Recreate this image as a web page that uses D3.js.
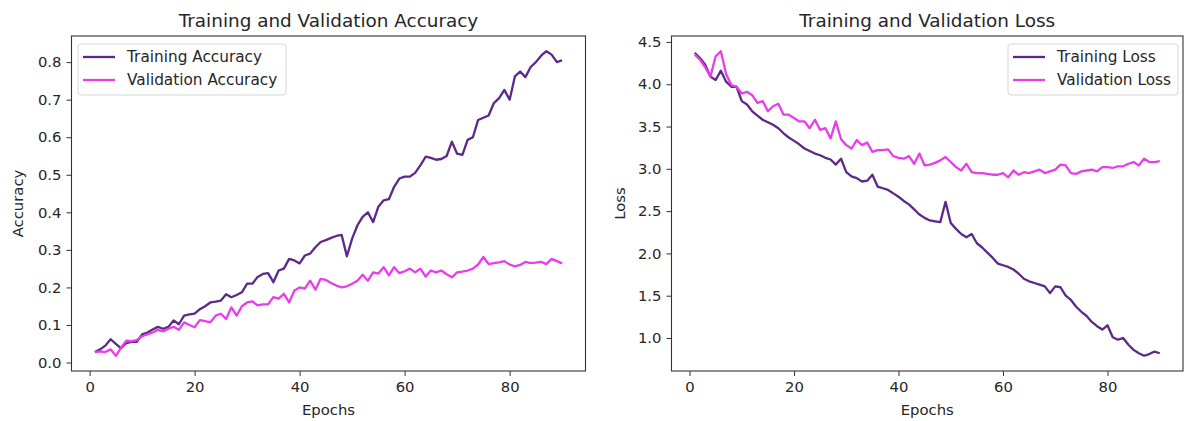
<!DOCTYPE html>
<html>
<head>
<meta charset="utf-8">
<script src="https://cdn.jsdelivr.net/npm/d3@7"></script>
<style>
  body { margin: 0; background: #fff; }
  text { font-family: "DejaVu Sans", sans-serif; fill: #262626; }
</style>
</head>
<body>
<div id="chart"></div>
<script>
// epochs 1..90
var epochs = d3.range(1, 91);

var trainAcc = [0.028,0.035,0.045,0.062,0.05,0.038,0.052,0.055,0.055,0.075,
  0.08,0.088,0.095,0.09,0.095,0.112,0.102,0.125,0.128,0.13,
  0.142,0.15,0.16,0.162,0.165,0.182,0.174,0.18,0.187,0.21,
  0.21,0.228,0.236,0.238,0.214,0.245,0.25,0.276,0.272,0.264,
  0.285,0.29,0.307,0.321,0.326,0.332,0.337,0.34,0.283,0.33,
  0.365,0.388,0.40,0.374,0.415,0.432,0.435,0.468,0.49,0.495,
  0.495,0.505,0.525,0.548,0.545,0.54,0.542,0.55,0.588,0.556,
  0.553,0.593,0.60,0.646,0.652,0.658,0.691,0.704,0.726,0.70,
  0.762,0.775,0.76,0.787,0.80,0.817,0.829,0.82,0.80,0.805];

var valAcc = [0.028,0.03,0.028,0.035,0.018,0.04,0.058,0.057,0.06,0.07,
  0.075,0.08,0.087,0.083,0.09,0.095,0.087,0.107,0.10,0.094,
  0.113,0.11,0.107,0.125,0.13,0.116,0.147,0.125,0.15,0.16,
  0.163,0.152,0.155,0.155,0.174,0.17,0.183,0.16,0.192,0.20,
  0.197,0.218,0.194,0.223,0.22,0.212,0.205,0.20,0.203,0.21,
  0.218,0.234,0.218,0.24,0.237,0.254,0.232,0.254,0.238,0.243,
  0.25,0.24,0.25,0.229,0.245,0.24,0.245,0.235,0.227,0.24,
  0.242,0.245,0.25,0.261,0.281,0.262,0.265,0.267,0.27,0.261,
  0.256,0.26,0.268,0.265,0.266,0.268,0.262,0.276,0.27,0.264];

var trainLoss = [4.37,4.31,4.23,4.09,4.05,4.16,4.03,3.97,3.97,3.80,
  3.76,3.68,3.63,3.58,3.55,3.52,3.48,3.42,3.37,3.33,
  3.29,3.24,3.21,3.18,3.16,3.13,3.11,3.05,3.12,2.96,
  2.91,2.89,2.85,2.86,2.93,2.79,2.77,2.75,2.71,2.67,
  2.62,2.58,2.52,2.46,2.42,2.39,2.38,2.37,2.61,2.36,
  2.29,2.23,2.19,2.23,2.12,2.07,2.01,1.95,1.88,1.86,
  1.84,1.81,1.76,1.70,1.67,1.65,1.63,1.61,1.53,1.61,
  1.60,1.50,1.45,1.37,1.31,1.26,1.19,1.14,1.10,1.15,
  1.01,0.98,1.00,0.92,0.86,0.82,0.79,0.81,0.84,0.82];

var valLoss = [4.35,4.29,4.20,4.09,4.33,4.39,4.12,3.99,3.97,3.89,
  3.91,3.87,3.78,3.80,3.68,3.74,3.77,3.64,3.64,3.60,
  3.56,3.56,3.48,3.58,3.46,3.48,3.36,3.56,3.35,3.28,
  3.24,3.34,3.28,3.31,3.20,3.22,3.22,3.23,3.15,3.13,
  3.12,3.15,3.06,3.18,3.04,3.05,3.07,3.10,3.14,3.08,
  3.02,2.98,3.06,2.96,2.95,2.95,2.94,2.93,2.93,2.95,
  2.90,2.98,2.93,2.96,2.95,2.97,2.99,2.95,2.97,2.99,
  3.05,3.04,2.95,2.94,2.97,2.98,2.99,2.97,3.02,3.02,
  3.01,3.03,3.03,3.06,3.08,3.04,3.12,3.08,3.08,3.09];

var xTicks = [0, 20, 40, 60, 80];
var accTicks = d3.range(0, 0.81, 0.1);
var lossTicks = d3.range(1.0, 4.51, 0.5);

var trainColor = "#5c2a86",
    valColor = "#e93de9";

var svg = d3.select("#chart")
  .append("svg")
  .attr("width", 1184)
  .attr("height", 421);

// matplotlib style 5% margins
function padded(ext) {
  var p = (ext[1] - ext[0]) * 0.05;
  return [ext[0] - p, ext[1] + p];
}

function drawPanel(opt) {
  var g = svg.append("g");

  var x = d3.scaleLinear()
    .domain(padded(d3.extent(epochs)))
    .range([opt.left, opt.right]);

  var y = d3.scaleLinear()
    .domain(padded(d3.extent(opt.train.concat(opt.val))))
    .range([opt.bottom, opt.top]);

  // x axis
  var xAxis = g.append("g")
    .attr("transform", "translate(0," + opt.bottom + ")")
    .call(d3.axisBottom(x).tickValues(xTicks).tickSize(5).tickPadding(5));
  // y axis
  var yAxis = g.append("g")
    .attr("transform", "translate(" + opt.left + ",0)")
    .call(d3.axisLeft(y).tickValues(opt.ticks).tickSize(5).tickPadding(5).tickFormat(d3.format(".1f")));

  [xAxis, yAxis].forEach(function(a) {
    a.select(".domain").remove();
    a.selectAll("line").attr("stroke", "#333");
    a.selectAll("text").style("font-size", "14.8px").style("fill", "#262626");
  });

  // frame
  g.append("rect")
    .attr("x", opt.left)
    .attr("y", opt.top)
    .attr("width", opt.right - opt.left)
    .attr("height", opt.bottom - opt.top)
    .attr("fill", "none")
    .attr("stroke", "#333")
    .attr("stroke-width", 1.1);

  var line = d3.line()
    .x(function(d, i) { return x(epochs[i]); })
    .y(function(d) { return y(d); });

  g.append("path")
    .datum(opt.train)
    .attr("d", line)
    .attr("fill", "none")
    .attr("stroke", trainColor)
    .attr("stroke-width", 2.3)
    .attr("stroke-linejoin", "round");

  g.append("path")
    .datum(opt.val)
    .attr("d", line)
    .attr("fill", "none")
    .attr("stroke", valColor)
    .attr("stroke-width", 2.3)
    .attr("stroke-linejoin", "round");

  var cx = (opt.left + opt.right) / 2;
  g.append("text")
    .attr("x", cx)
    .attr("y", 27)
    .attr("text-anchor", "middle")
    .style("font-size", "18.4px")
    .text(opt.title);

  g.append("text")
    .attr("x", cx)
    .attr("y", 415)
    .attr("text-anchor", "middle")
    .style("font-size", "14.8px")
    .text("Epochs");

  g.append("text")
    .attr("transform", "translate(" + opt.ylabelX + "," + ((opt.top + opt.bottom) / 2) + ") rotate(-90)")
    .attr("text-anchor", "middle")
    .style("font-size", "14.8px")
    .text(opt.ylabel);

  // legend
  var lg = g.append("g").attr("transform", "translate(" + opt.legendX + ",44)");
  lg.append("rect")
    .attr("width", opt.legendW)
    .attr("height", 51)
    .attr("rx", 3)
    .attr("fill", "#fff")
    .attr("fill-opacity", 0.8)
    .attr("stroke", "#d6d6d6");
  var items = [
    { name: opt.names[0], color: trainColor },
    { name: opt.names[1], color: valColor }
  ];
  items.forEach(function(it, i) {
    var yy = 13 + i * 23;
    lg.append("line")
      .attr("x1", 5).attr("x2", 37)
      .attr("y1", yy).attr("y2", yy)
      .attr("stroke", it.color)
      .attr("stroke-width", 2.3);
    lg.append("text")
      .attr("x", 49)
      .attr("y", yy + 5)
      .style("font-size", "15.3px")
      .text(it.name);
  });
}

drawPanel({
  left: 71.5, right: 585.5, top: 36, bottom: 371,
  train: trainAcc, val: valAcc, ticks: accTicks,
  title: "Training and Validation Accuracy",
  ylabel: "Accuracy", ylabelX: 23,
  names: ["Training Accuracy", "Validation Accuracy"],
  legendX: 78, legendW: 208
});

drawPanel({
  left: 671.5, right: 1183, top: 36, bottom: 371,
  train: trainLoss, val: valLoss, ticks: lossTicks,
  title: "Training and Validation Loss",
  ylabel: "Loss", ylabelX: 625,
  names: ["Training Loss", "Validation Loss"],
  legendX: 1008, legendW: 170
});
</script>
</body>
</html>
